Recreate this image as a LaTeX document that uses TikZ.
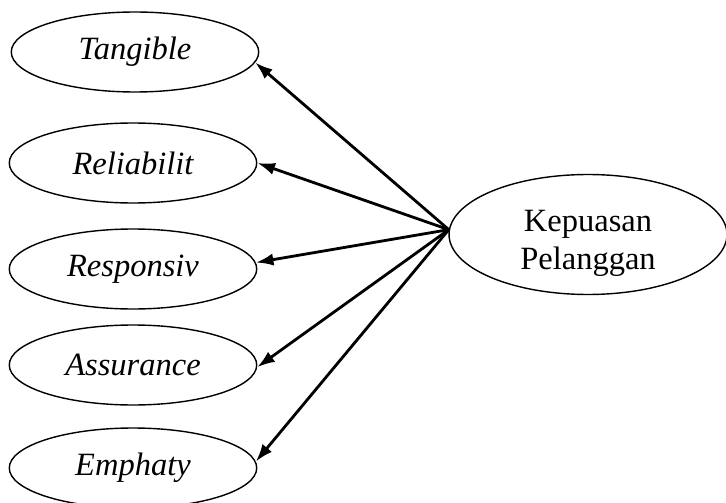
\documentclass[tikz,border=0pt]{standalone}
\usepackage{fontspec}
\setmainfont{Liberation Serif}
\usetikzlibrary{arrows.meta,shapes.geometric}

\begin{document}
\begin{tikzpicture}[x=0.02cm,y=-0.02cm,
	dim/.style={ellipse,draw,line width=0.8pt,inner sep=0pt,minimum width=4.95cm,minimum height=1.6cm,
		font=\fontsize{18.5}{22}\selectfont\itshape},
	goal/.style={ellipse,draw,line width=0.8pt,inner sep=0pt,minimum width=5.56cm,minimum height=2.4cm,
		font=\fontsize{18.5}{22}\selectfont},
	link/.style={line width=1.6pt,-{Latex[length=10pt,width=7pt]}}]
\useasboundingbox (0,0) rectangle (726,503);
\clip (0,0) rectangle (726,503);
\node[dim] (tangible) at (135,52) {Tangible};
\node[dim] (reliabilit) at (133,163) {Reliabilit};
\node[dim] (responsiv) at (133,269) {Responsiv};
\node[dim] (assurance) at (133,365) {Assurance};
\node[dim] (emphaty) at (133,468) {Emphaty};
\node[goal] (kepuasan) at (588,234.5)
	{\raisebox{-5pt}[\height][\depth]{\shortstack{Kepuasan\\[2pt]Pelanggan}}};
\coordinate (hub) at (kepuasan.178);
\foreach \n/\a in {tangible/-5,reliabilit/0,responsiv/3,assurance/-1,emphaty/3}
	\draw[link] (hub) -- (\n.\a);
\end{tikzpicture}
\end{document}
